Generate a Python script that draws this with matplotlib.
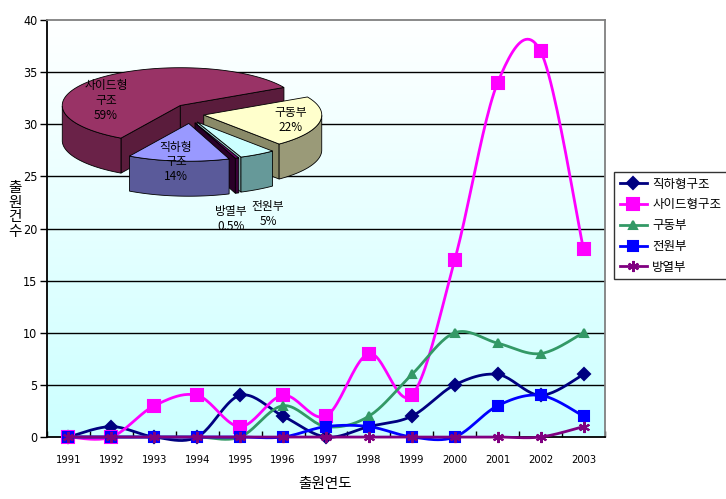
import numpy as np
import matplotlib
matplotlib.use("Agg")
import matplotlib.pyplot as plt
from matplotlib.patches import Polygon
from matplotlib.lines import Line2D

plt.rcParams['font.family'] = ['Noto Sans CJK KR', 'DejaVu Sans']

# ---------------- data ----------------
years = ['1991', '1992', '1993', '1994', '1995', '1996', '1997', '1998', '1999',
         '2000', '2001', '2002', '2003']
series_names = ['직하형구조', '사이드형구조', '구동부', '전원부', '방열부']
direct = [0, 1, 0, 0, 4, 2, 0, 1, 2, 5, 6, 4, 6]
side = [0, 0, 3, 4, 1, 4, 2, 8, 4, 17, 34, 37, 18]
drive = [0, 0, 0, 0, 0, 3, 1, 2, 6, 10, 9, 8, 10]
power = [0, 0, 0, 0, 0, 0, 1, 1, 0, 0, 3, 4, 2]
heat = [0, 0, 0, 0, 0, 0, 0, 0, 0, 0, 0, 0, 1]

pie_labels = ['직하형\n구조', '사이드형\n구조', '구동부', '전원부', '방열부']
pie_pct_text = ['14%', '59%', '22%', '5%', '0.5%']
pie_values = [14, 59, 22, 5, 0.5]

# ---------------- figure ----------------
W, H = 726, 499
fig = plt.figure(figsize=(W / 100, H / 100), dpi=100)
fig.patch.set_facecolor('white')

L, R_, T, B = 47, 605, 20, 437
ax = fig.add_axes([L / W, 1 - B / H, (R_ - L) / W, (B - T) / H])

x = np.arange(len(years))
ax.set_xlim(-0.5, len(years) - 0.5)
ax.set_ylim(0, 40)

# gradient background
grad = np.linspace(0, 1, 256).reshape(-1, 1)
top_c = np.array([1.0, 1.0, 1.0])
bot_c = np.array([0.80, 1.0, 1.0])
img = top_c[None, None, :] * (1 - grad[:, :, None]) + bot_c[None, None, :] * grad[:, :, None]
ax.imshow(img, extent=[0, 1, 0, 1], transform=ax.transAxes, aspect='auto', zorder=0,
          origin='upper')

for yv in range(5, 40, 5):
    ax.axhline(yv, color='black', lw=1.0, zorder=1)

ax.spines['left'].set_color('black')
ax.spines['bottom'].set_color('black')
ax.spines['left'].set_linewidth(1.3)
ax.spines['bottom'].set_linewidth(1.3)
ax.spines['top'].set_color('#808080')
ax.spines['right'].set_color('#808080')
ax.spines['top'].set_linewidth(1.3)
ax.spines['right'].set_linewidth(1.3)


def smooth(xs, ys, n=24):
    P = np.column_stack([xs, ys]).astype(float)
    out = [P[0]]
    for i in range(len(P) - 1):
        p0 = P[i - 1] if i > 0 else P[i]
        p1 = P[i]
        p2 = P[i + 1]
        p3 = P[i + 2] if i + 2 < len(P) else P[i + 1]
        c1 = p1 + (p2 - p0) / 6
        c2 = p2 - (p3 - p1) / 6
        t = np.linspace(0, 1, n)[1:, None]
        seg = (1 - t) ** 3 * p1 + 3 * (1 - t) ** 2 * t * c1 + 3 * (1 - t) * t ** 2 * c2 + t ** 3 * p2
        out.extend(seg)
    return np.array(out)


styles = [
    dict(color='#000080', marker='D', ms=6.5),
    dict(color='#FF00FF', marker='s', ms=8.5),
    dict(color='#339966', marker='^', ms=5.5),
    dict(color='#0000FF', marker='s', ms=7.5),
    dict(color='#800080', marker=(6, 2, 0), ms=8),
]
handles = []
for i, (name, vals) in enumerate(zip(series_names, [direct, side, drive, power, heat])):
    st = styles[i]
    c = smooth(x, vals)
    ax.plot(c[:, 0], c[:, 1], color=st['color'], lw=2.0, zorder=3 + i, clip_on=False)
    ax.plot(x, vals, linestyle='none', marker=st['marker'], ms=st['ms'],
            color=st['color'], mec=st['color'], mew=1.5, zorder=3 + i, clip_on=False)
    handles.append(Line2D([0], [0], color=st['color'], lw=2.0, marker=st['marker'],
                          ms=st['ms'], mec=st['color'], mew=1.5))

ax.set_xticks(x)
ax.set_xticklabels(years)
ax.set_xticks(np.arange(-0.5, len(years), 1), minor=True)
ax.tick_params(axis='x', which='major', length=0, pad=13, labelsize=8)
ax.tick_params(axis='x', which='minor', direction='in', length=4, width=1)
ax.set_yticks(range(0, 41, 5))
ax.tick_params(axis='y', direction='out', length=5, width=1, pad=2, labelsize=9)
for lab in ax.get_xticklabels() + ax.get_yticklabels():
    lab.set_fontfamily('DejaVu Sans')
    lab.set_fontstretch('condensed')

fig.text(15 / W, 1 - 210 / H, '출\n원\n건\n수', ha='center', va='center', fontsize=10.5,
         linespacing=1.05)
fig.text(325 / W, 1 - 484 / H, '출원연도', ha='center', va='center', fontsize=10.5)

leg = fig.legend(handles, series_names, loc='upper left',
                 bbox_to_anchor=(614 / W, 1 - 172 / H), frameon=True, fancybox=False,
                 edgecolor='black', fontsize=9, handlelength=2.2, labelspacing=0.62,
                 borderpad=0.45, handletextpad=0.4, borderaxespad=0)
leg.get_frame().set_linewidth(1.0)

# ---------------- 3D pie inset ----------------
pax = fig.add_axes([0, 0, 1, 1], zorder=10)
pax.set_xlim(0, W)
pax.set_ylim(H, 0)
pax.axis('off')
pax.patch.set_alpha(0)

cx, cy = 190, 113
Rp, kp, D = 118, 0.32, 35
expl, ke = 14, 0.75
start = 290.0
top_cols = ['#9999FF', '#993366', '#FFFFCC', '#CCFFFF', '#660066']
side_cols = ['#5A5A9A', '#6A2248', '#9A9A78', '#669999', '#3A0038']
face_cols = ['#4A4A88', '#5A1C3C', '#8A8A68', '#99CCCC', '#2A0028']

vals = np.array(pie_values, float)
spans = vals / vals.sum() * 360
cum = np.concatenate([[0], np.cumsum(spans)])
slices = []
for i in range(len(vals)):
    a1 = start - cum[i]
    a0 = a1 - spans[i]
    slices.append((i, a0, a1))


def pt(c, a, dz=0):
    r = np.radians(a)
    return (c[0] + Rp * np.cos(r), c[1] - kp * Rp * np.sin(r) + dz)


order = sorted(slices, key=lambda s: -np.sin(np.radians((s[1] + s[2]) / 2)))
for i, a0, a1 in order:
    m = np.radians((a0 + a1) / 2)
    c = (cx + expl * np.cos(m), cy - expl * ke * np.sin(m))
    # radial faces
    for a, vis in ((a0, np.cos(np.radians(a0)) > 0), (a1, np.cos(np.radians(a1)) < 0)):
        if vis:
            p = pt(c, a)
            poly = [c, p, (p[0], p[1] + D), (c[0], c[1] + D)]
            pax.add_patch(Polygon(poly, closed=True, fc=face_cols[i], ec='black', lw=0.6))
    # outer side (front half)
    angs = np.linspace(a0, a1, 120)
    front = np.sin(np.radians(angs)) < 0
    if front.any():
        aa = angs[front]
        topp = [pt(c, a) for a in aa]
        botp = [pt(c, a, D) for a in aa[::-1]]
        pax.add_patch(Polygon(topp + botp, closed=True, fc=side_cols[i], ec='black', lw=0.6))
    # top
    poly = [c] + [pt(c, a) for a in angs]
    pax.add_patch(Polygon(poly, closed=True, fc=top_cols[i], ec='black', lw=0.6))

label_pos = [(176, 162), (106, 100), (291, 120), (268, 214), (231, 219)]
for i in range(len(vals)):
    lx, ly = label_pos[i]
    pax.text(lx, ly, pie_labels[i] + '\n' + pie_pct_text[i], ha='center', va='center',
             fontsize=8.5, linespacing=1.2, color='black')

fig.savefig('out.png', dpi=100)
